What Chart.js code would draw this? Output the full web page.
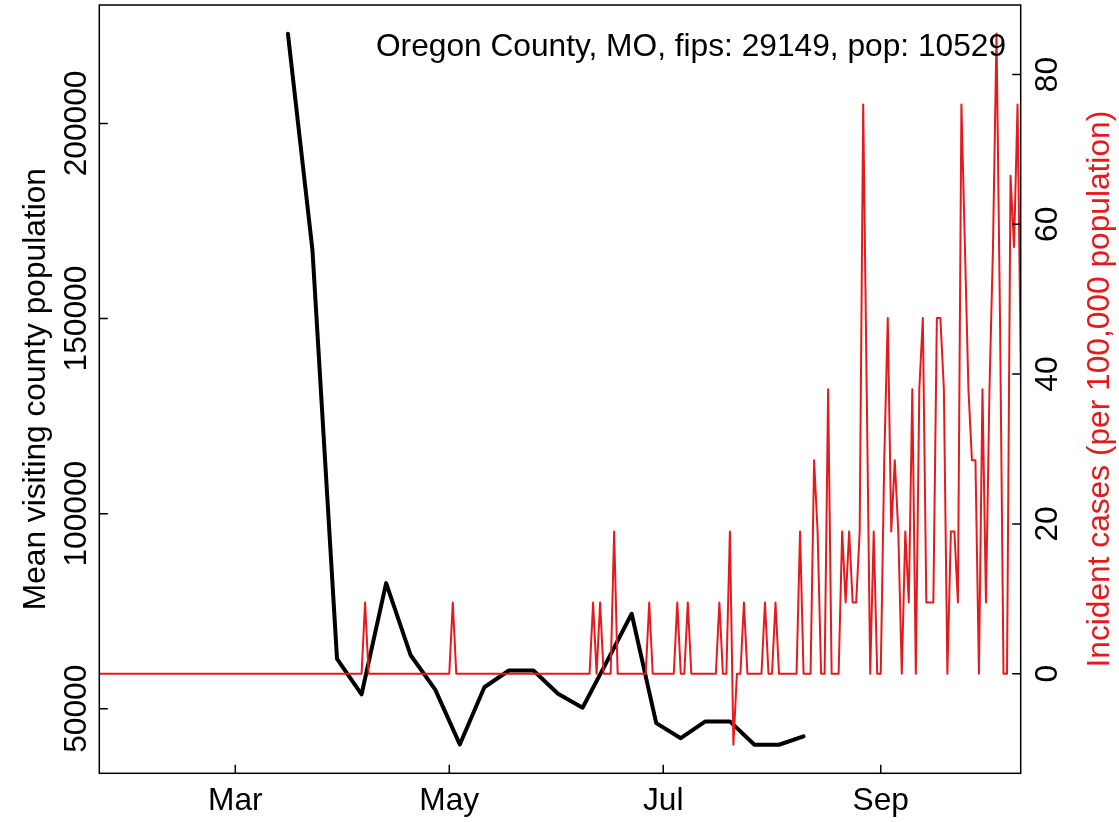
<!DOCTYPE html>
<html>
<head>
<meta charset="utf-8">
<script src="https://cdn.jsdelivr.net/npm/chart.js@4.4.0/dist/chart.umd.min.js"></script>
<style>
  html, body { margin: 0; padding: 0; background: #fff; }
  #wrap { width: 1119px; height: 822px; }
</style>
</head>
<body>
<div id="wrap"><canvas id="cvs"></canvas></div>
<script>
// county info shown in the corner
const countyLabel = 'Oregon County, MO, fips: 29149, pop: 10529';
const countyPop = 10529;

// weekly mean visiting county population (black line)
const weekDates = ['2020-03-16', '2020-03-23', '2020-03-30', '2020-04-06', '2020-04-13', '2020-04-20',
  '2020-04-27', '2020-05-04', '2020-05-11', '2020-05-18', '2020-05-25', '2020-06-01', '2020-06-08',
  '2020-06-15', '2020-06-22', '2020-06-29', '2020-07-06', '2020-07-13', '2020-07-20', '2020-07-27',
  '2020-08-03', '2020-08-10'];
const visitPop = [223000, 167500, 62800, 53700, 82200, 63700, 54900, 40850, 55500, 59800, 59800,
  53850, 50250, 62200, 74350, 46300, 42450, 46750, 46750, 40770, 40770, 42900];

// daily new cases, one value per day from caseStart (red line)
const caseStart = '2020-01-22';
const dailyCases = [
  0, 0, 0, 0, 0, 0, 0, 0, 0, 0,
  0, 0, 0, 0, 0, 0, 0, 0, 0, 0,
  0, 0, 0, 0, 0, 0, 0, 0, 0, 0,
  0, 0, 0, 0, 0, 0, 0, 0, 0, 0,
  0, 0, 0, 0, 0, 0, 0, 0, 0, 0,
  0, 0, 0, 0, 0, 0, 0, 0, 0, 0,
  0, 0, 0, 0, 0, 0, 0, 0, 0, 0,
  0, 0, 0, 0, 0, 0, 1, 0, 0, 0,
  0, 0, 0, 0, 0, 0, 0, 0, 0, 0,
  0, 0, 0, 0, 0, 0, 0, 0, 0, 0,
  0, 1, 0, 0, 0, 0, 0, 0, 0, 0,
  0, 0, 0, 0, 0, 0, 0, 0, 0, 0,
  0, 0, 0, 0, 0, 0, 0, 0, 0, 0,
  0, 0, 0, 0, 0, 0, 0, 0, 0, 0,
  0, 1, 0, 1, 0, 0, 0, 2, 0, 0,
  0, 0, 0, 0, 0, 0, 0, 1, 0, 0,
  0, 0, 0, 0, 0, 1, 0, 0, 1, 0,
  0, 0, 0, 0, 0, 0, 0, 1, 0, 0,
  2, -1, 0, 0, 1, 0, 0, 0, 0, 0,
  1, 0, 0, 1, 0, 0, 0, 0, 0, 0,
  2, 0, 0, 0, 3, 2, 0, 0, 4, 0,
  0, 0, 2, 1, 2, 1, 1, 2, 8, 4,
  0, 2, 0, 0, 3, 5, 2, 3, 2, 0,
  2, 1, 4, 0, 4, 5, 1, 1, 1, 5,
  5, 4, 0, 2, 2, 1, 8, 6, 4, 3,
  3, 0, 4, 1, 4, 6, 9, 5, 0, 0,
  7, 6, 8, 4
];

// axes
const monthDates = ['2020-03-01', '2020-05-01', '2020-07-01', '2020-09-01'];
const monthLabels = ['Mar', 'May', 'Jul', 'Sep'];
const popTicks = [50000, 100000, 150000, 200000];
const caseTicks = [0, 20, 40, 60, 80];

const FONT = "'Liberation Sans', Arial, Helvetica, sans-serif";
const FSIZE = 31.7;
const RED = '#E41A1C';

const dayNum = s => (Date.parse(s) - Date.parse('2020-01-01')) / 86400000;
const monthDays = monthDates.map(dayNum);
const startDay = dayNum(caseStart);

const blackPts = weekDates.map((d, i) => ({ x: dayNum(d), y: visitPop[i] }));
const redPts = dailyCases.map((c, i) => ({ x: startDay + i, y: c / countyPop * 100000 }));

function vText(ctx, txt, x, y) {
  ctx.save();
  ctx.translate(x, y);
  ctx.rotate(-Math.PI / 2);
  ctx.textAlign = 'center';
  ctx.textBaseline = 'alphabetic';
  ctx.fillText(txt, 0, 0);
  ctx.restore();
}

// R-like box, inward ticks, rotated labels and titles
const baseStyle = {
  id: 'baseStyle',
  afterDraw(chart) {
    const { ctx, chartArea: a, scales } = chart;
    const tl = 8.5;
    ctx.save();
    ctx.strokeStyle = '#000';
    ctx.lineWidth = 1.5;
    ctx.strokeRect(a.left, a.top, a.right - a.left, a.bottom - a.top);
    ctx.beginPath();
    scales.x.ticks.forEach(t => {
      const p = scales.x.getPixelForValue(t.value);
      ctx.moveTo(p, a.bottom); ctx.lineTo(p, a.bottom - tl);
    });
    scales.yL.ticks.forEach(t => {
      const p = scales.yL.getPixelForValue(t.value);
      ctx.moveTo(a.left, p); ctx.lineTo(a.left + tl, p);
    });
    scales.yR.ticks.forEach(t => {
      const p = scales.yR.getPixelForValue(t.value);
      ctx.moveTo(a.right, p); ctx.lineTo(a.right - tl, p);
    });
    ctx.stroke();

    ctx.font = FSIZE + 'px ' + FONT;
    ctx.fillStyle = '#000';
    scales.yL.ticks.forEach(t => vText(ctx, String(t.value), a.left - 13, scales.yL.getPixelForValue(t.value)));
    scales.yR.ticks.forEach(t => vText(ctx, String(t.value), a.right + 36, scales.yR.getPixelForValue(t.value)));

    const midY = (a.top + a.bottom) / 2;
    vText(ctx, 'Mean visiting county population', a.left - 54, midY);
    ctx.fillStyle = RED;
    vText(ctx, 'Incident cases (per 100,000 population)', a.right + 88.5, midY);

    ctx.fillStyle = '#000';
    ctx.textAlign = 'right';
    ctx.textBaseline = 'alphabetic';
    ctx.fillText(countyLabel, a.right - 14.7, a.top + 51.3);
    ctx.restore();
  }
};

const cvs = document.getElementById('cvs');
new Chart(cvs, {
  type: 'line',
  data: {
    datasets: [{
      label: 'Incident cases',
      data: redPts,
      yAxisID: 'yR',
      borderColor: RED,
      borderWidth: 2,
      pointRadius: 0,
      tension: 0,
      borderJoinStyle: 'round'
    }, {
      label: 'Mean visiting county population',
      data: blackPts,
      yAxisID: 'yL',
      borderColor: '#000',
      borderWidth: 4,
      pointRadius: 0,
      tension: 0,
      borderJoinStyle: 'round',
      borderCapStyle: 'round'
    }]
  },
  options: {
    responsive: true,
    maintainAspectRatio: false,
    animation: false,
    layout: { padding: { top: 5, left: 0, right: 0, bottom: 0 } },
    plugins: {
      legend: { display: false },
      tooltip: { enabled: false }
    },
    scales: {
      x: {
        type: 'linear',
        position: 'bottom',
        min: 21.23,
        max: 283.9,
        afterBuildTicks: s => { s.ticks = monthDays.map(v => ({ value: v })); },
        afterFit: s => { s.height = 48.7; },
        grid: { display: false, drawTicks: false },
        border: { display: false },
        ticks: {
          autoSkip: false,
          maxRotation: 0,
          padding: 9,
          color: '#000',
          font: { family: FONT, size: FSIZE },
          callback: v => monthLabels[monthDays.indexOf(v)]
        }
      },
      yL: {
        type: 'linear',
        position: 'left',
        min: 33450,
        max: 230370,
        afterBuildTicks: s => { s.ticks = popTicks.map(v => ({ value: v })); },
        afterFit: s => { s.width = 99.3; },
        grid: { display: false, drawTicks: false },
        border: { display: false },
        ticks: { display: false }
      },
      yR: {
        type: 'linear',
        position: 'right',
        min: -13.3,
        max: 89.28,
        afterBuildTicks: s => { s.ticks = caseTicks.map(v => ({ value: v })); },
        afterFit: s => { s.width = 98.3; },
        grid: { display: false, drawTicks: false },
        border: { display: false },
        ticks: { display: false }
      }
    }
  },
  plugins: [baseStyle]
});
</script>
</body>
</html>
